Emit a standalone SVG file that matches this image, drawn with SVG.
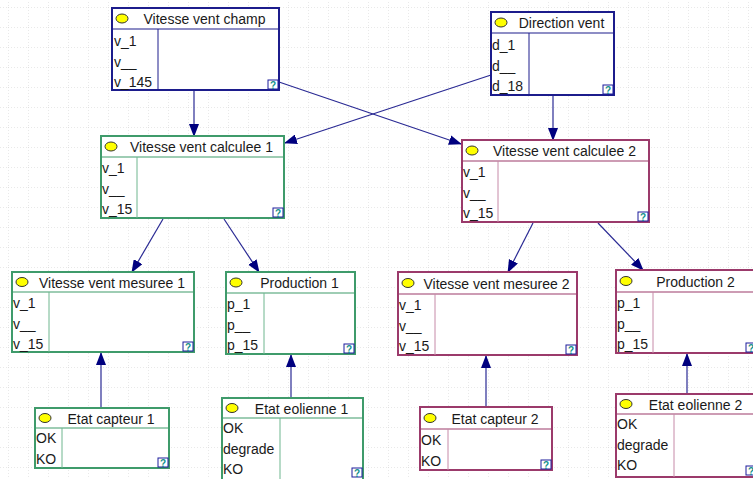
<svg xmlns="http://www.w3.org/2000/svg" width="753" height="479" viewBox="0 0 753 479">
<style>
text{font-family:"Liberation Sans",Arial,sans-serif;font-size:14px;fill:#1a1a1a}
.t{text-anchor:middle}
.box{fill:#fff;stroke-width:2}
.sep{stroke-width:1.2}
.navy .box,.navy .sep{stroke:#1c1c8c}
.navy .div{stroke:#1c1c8c}
.green .box,.green .sep{stroke:#3f9b6b}
.green .div{stroke:#6fb68f}
.purple .box,.purple .sep{stroke:#9b3a6b}
.purple .div{stroke:#c68aa8}
.div{stroke-width:1}
.dot{fill:#ffff00;stroke:#333;stroke-width:1}
.q rect{fill:#fff;stroke:#1c1c9c;stroke-width:1}
.q text{font-size:10px;font-weight:bold;fill:#10908a;text-anchor:middle}
.conn line{stroke:#2a2a94;stroke-width:1.2;marker-end:url(#arr)}
</style>
<defs>
<pattern id="grid" x="8" y="7" width="20" height="20" patternUnits="userSpaceOnUse">
<line x1="0" y1="0" x2="20" y2="0" stroke="#d4d4d4" stroke-width="1" stroke-dasharray="1,2"/>
<line x1="0" y1="0" x2="0" y2="20" stroke="#d4d4d4" stroke-width="1" stroke-dasharray="1,2"/>
</pattern>
<marker id="arr" markerWidth="13" markerHeight="10" refX="12" refY="5" orient="auto" markerUnits="userSpaceOnUse">
<path d="M0,0 L13,5 L0,10 z" fill="#00007f"/>
</marker>
</defs>
<rect width="753" height="479" fill="#fff"/>
<rect width="753" height="479" fill="url(#grid)"/>

<g id="connectors" class="conn">
<line x1="194" y1="91" x2="194" y2="136"/>
<line x1="279" y1="82" x2="461" y2="144"/>
<line x1="491" y1="75" x2="285" y2="143"/>
<line x1="553" y1="95" x2="553" y2="140"/>
<line x1="163" y1="219" x2="132" y2="272"/>
<line x1="224" y1="219" x2="259" y2="272"/>
<line x1="533" y1="223" x2="508" y2="272"/>
<line x1="598" y1="223" x2="643" y2="270"/>
<line x1="101" y1="408" x2="101" y2="353"/>
<line x1="291" y1="398" x2="291" y2="355"/>
<line x1="486" y1="407" x2="486" y2="356"/>
<line x1="687" y1="394" x2="687" y2="354"/>
</g>

<g id="vitesse-vent-champ" class="navy">
<rect class="box" x="112" y="8" width="167" height="82"/>
<line class="sep" x1="112" y1="29" x2="279" y2="29"/>
<line class="div" x1="158" y1="29" x2="158" y2="90"/>
<ellipse class="dot" cx="122" cy="18.5" rx="6" ry="4.5"/>
<text class="t" x="204.5" y="24">Vitesse vent champ</text>
<text x="114" y="46">v_1</text><text x="114" y="66.5">v__</text><text x="114" y="87">v_145</text>
<g class="q"><rect x="268" y="80" width="10" height="9"/><text x="273" y="88.5">?</text></g>
</g>

<g id="direction-vent" class="navy">
<rect class="box" x="491" y="12" width="123" height="83"/>
<line class="sep" x1="491" y1="33" x2="614" y2="33"/>
<line class="div" x1="529" y1="33" x2="529" y2="95"/>
<ellipse class="dot" cx="501" cy="22.5" rx="6" ry="4.5"/>
<text class="t" x="561.5" y="28">Direction vent</text>
<text x="492" y="50">d_1</text><text x="492" y="70.5">d__</text><text x="492" y="91">d_18</text>
<g class="q"><rect x="603" y="85" width="10" height="9"/><text x="608" y="93.5">?</text></g>
</g>

<g id="vitesse-vent-calculee-1" class="green">
<rect class="box" x="101" y="136" width="183" height="82"/>
<line class="sep" x1="101" y1="157" x2="284" y2="157"/>
<line class="div" x1="137" y1="157" x2="137" y2="218"/>
<ellipse class="dot" cx="111" cy="146.5" rx="6" ry="4.5"/>
<text class="t" x="201.5" y="152">Vitesse vent calculee 1</text>
<text x="102" y="173">v_1</text><text x="102" y="193.5">v__</text><text x="102" y="214">v_15</text>
<g class="q"><rect x="273" y="208" width="10" height="9"/><text x="278" y="216.5">?</text></g>
</g>

<g id="vitesse-vent-calculee-2" class="purple">
<rect class="box" x="462" y="140" width="187" height="82"/>
<line class="sep" x1="462" y1="161" x2="649" y2="161"/>
<line class="div" x1="498" y1="161" x2="498" y2="222"/>
<ellipse class="dot" cx="472" cy="150.5" rx="6" ry="4.5"/>
<text class="t" x="564.5" y="156">Vitesse vent calculee 2</text>
<text x="463" y="177">v_1</text><text x="463" y="197.5">v__</text><text x="463" y="218">v_15</text>
<g class="q"><rect x="638" y="212" width="10" height="9"/><text x="643" y="220.5">?</text></g>
</g>

<g id="vitesse-vent-mesuree-1" class="green">
<rect class="box" x="12" y="272" width="182" height="80"/>
<line class="sep" x1="12" y1="292" x2="194" y2="292"/>
<line class="div" x1="49" y1="292" x2="49" y2="352"/>
<ellipse class="dot" cx="22" cy="282" rx="6" ry="4.5"/>
<text class="t" x="112" y="287.5">Vitesse vent mesuree 1</text>
<text x="13" y="308">v_1</text><text x="13" y="328.5">v__</text><text x="13" y="349">v_15</text>
<g class="q"><rect x="183" y="342" width="10" height="9"/><text x="188" y="350.5">?</text></g>
</g>

<g id="production-1" class="green">
<rect class="box" x="226" y="272" width="129" height="82"/>
<line class="sep" x1="226" y1="293" x2="355" y2="293"/>
<line class="div" x1="264" y1="293" x2="264" y2="354"/>
<ellipse class="dot" cx="236" cy="282.5" rx="6" ry="4.5"/>
<text class="t" x="299.5" y="288">Production 1</text>
<text x="227" y="309">p_1</text><text x="227" y="329.5">p__</text><text x="227" y="350">p_15</text>
<g class="q"><rect x="344" y="344" width="10" height="9"/><text x="349" y="352.5">?</text></g>
</g>

<g id="vitesse-vent-mesuree-2" class="purple">
<rect class="box" x="398" y="272" width="179" height="83"/>
<line class="sep" x1="398" y1="294" x2="577" y2="294"/>
<line class="div" x1="435" y1="294" x2="435" y2="355"/>
<ellipse class="dot" cx="408" cy="283" rx="6" ry="4.5"/>
<text class="t" x="496.5" y="288.5">Vitesse vent mesuree 2</text>
<text x="399" y="310">v_1</text><text x="399" y="330.5">v__</text><text x="399" y="351">v_15</text>
<g class="q"><rect x="566" y="345" width="10" height="9"/><text x="571" y="353.5">?</text></g>
</g>

<g id="production-2" class="purple">
<rect class="box" x="616" y="270" width="141" height="83"/>
<line class="sep" x1="616" y1="292" x2="757" y2="292"/>
<line class="div" x1="653" y1="292" x2="653" y2="353"/>
<ellipse class="dot" cx="626" cy="281" rx="6" ry="4.5"/>
<text class="t" x="695.5" y="286.5">Production 2</text>
<text x="617" y="308">p_1</text><text x="617" y="328.5">p__</text><text x="617" y="349">p_15</text>
<g class="q"><rect x="746" y="343" width="10" height="9"/><text x="751" y="351.5">?</text></g>
</g>

<g id="etat-capteur-1" class="green">
<rect class="box" x="35" y="408" width="134" height="60"/>
<line class="sep" x1="35" y1="428" x2="169" y2="428"/>
<line class="div" x1="62" y1="428" x2="62" y2="468"/>
<ellipse class="dot" cx="45" cy="418" rx="6" ry="4.5"/>
<text class="t" x="111" y="423.5">Etat capteur 1</text>
<text x="36" y="443">OK</text><text x="36" y="464">KO</text>
<g class="q"><rect x="158" y="458" width="10" height="9"/><text x="163" y="466.5">?</text></g>
</g>

<g id="etat-eolienne-1" class="green">
<rect class="box" x="222" y="398" width="141" height="83"/>
<line class="sep" x1="222" y1="418" x2="363" y2="418"/>
<line class="div" x1="280" y1="418" x2="280" y2="481"/>
<ellipse class="dot" cx="232" cy="408" rx="6" ry="4.5"/>
<text class="t" x="301.5" y="413.5">Etat eolienne 1</text>
<text x="223" y="433">OK</text><text x="223" y="453.5">degrade</text><text x="223" y="474">KO</text>
<g class="q"><rect x="352" y="468" width="10" height="9"/><text x="357" y="476.5">?</text></g>
</g>

<g id="etat-capteur-2" class="purple">
<rect class="box" x="420" y="407" width="132" height="63"/>
<line class="sep" x1="420" y1="429" x2="552" y2="429"/>
<line class="div" x1="448" y1="429" x2="448" y2="470"/>
<ellipse class="dot" cx="430" cy="418" rx="6" ry="4.5"/>
<text class="t" x="495" y="423.5">Etat capteur 2</text>
<text x="421" y="445">OK</text><text x="421" y="466">KO</text>
<g class="q"><rect x="541" y="460" width="10" height="9"/><text x="546" y="468.5">?</text></g>
</g>

<g id="etat-eolienne-2" class="purple">
<rect class="box" x="616" y="394" width="141" height="83"/>
<line class="sep" x1="616" y1="414" x2="757" y2="414"/>
<line class="div" x1="674" y1="414" x2="674" y2="477"/>
<ellipse class="dot" cx="626" cy="404" rx="6" ry="4.5"/>
<text class="t" x="695.5" y="409.5">Etat eolienne 2</text>
<text x="617" y="429">OK</text><text x="617" y="449.5">degrade</text><text x="617" y="470">KO</text>
<g class="q"><rect x="746" y="466" width="10" height="9"/><text x="751" y="474.5">?</text></g>
</g>
</svg>
